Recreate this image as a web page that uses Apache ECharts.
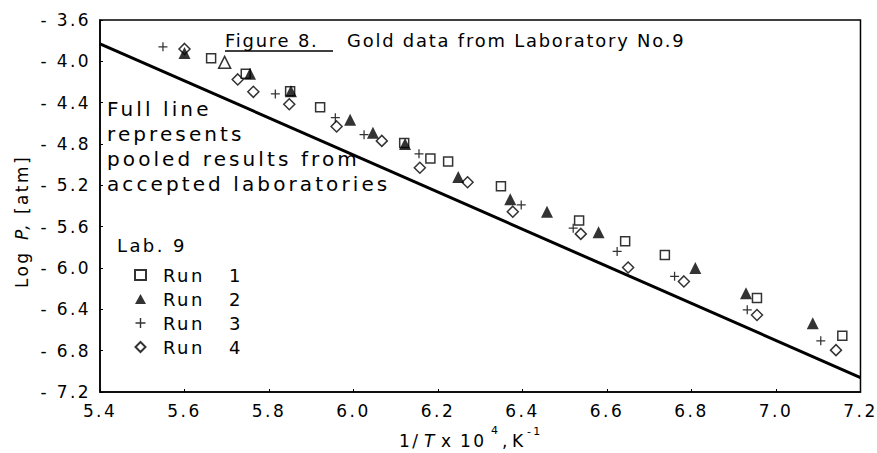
<!DOCTYPE html>
<html>
<head>
<meta charset="utf-8">
<script src="https://cdn.jsdelivr.net/npm/echarts@6/dist/echarts.min.js"></script>
<style>
html,body{margin:0;padding:0;background:#fff}
#c{width:877px;height:453px}
#c text{letter-spacing:2.4px}
#c text[style*="20px"]{letter-spacing:3.1px}
#c text[style*="17.9px"]{letter-spacing:1.8px}
</style>
</head>
<body>
<div id="c"></div>
<script>
// Run 1 (open squares): [1/T x 10^4, log P]
const run1 = [[5.663,-3.97],[5.745,-4.12],[5.85,-4.29],[5.921,-4.445],[6.12,-4.79],[6.182,-4.94],[6.224,-4.97],[6.349,-5.21],[6.534,-5.54],[6.643,-5.74],[6.737,-5.875],[6.955,-6.29],[7.157,-6.655]];
// Run 2 (filled triangles)
const run2 = [[5.6,-3.92],[5.755,-4.12],[5.852,-4.29],[5.992,-4.565],[6.046,-4.69],[6.122,-4.80],[6.248,-5.12],[6.371,-5.335],[6.458,-5.455],[6.58,-5.655],[6.809,-6.00],[6.929,-6.245],[7.087,-6.535]];
// Run 2 point drawn open in the figure
const run2Open = [[5.695,-4.01]];
// Run 3 (plus)
const run3 = [[5.549,-3.86],[5.815,-4.315],[5.957,-4.545],[6.025,-4.71],[6.155,-4.895],[6.397,-5.39],[6.52,-5.615],[6.624,-5.84],[6.76,-6.08],[6.932,-6.405],[7.106,-6.705]];
// Run 4 (open diamonds)
const run4 = [[5.6,-3.88],[5.726,-4.175],[5.763,-4.295],[5.848,-4.415],[5.96,-4.63],[6.067,-4.77],[6.157,-5.03],[6.27,-5.17],[6.377,-5.455],[6.538,-5.67],[6.65,-5.995],[6.782,-6.13],[6.955,-6.455],[7.142,-6.795]];
// Pooled results from accepted laboratories (full line)
const pooled = [[5.4,-3.83],[7.2,-7.06]];
const seriesNames = ['Run   1','Run   2','Run   3','Run   4'];
const noteLines = ['Full line','represents','pooled results from','accepted laboratories'];

const FONT = 'DejaVu Sans';
const chart = echarts.init(document.getElementById('c'), null, {renderer:'svg'});
const plus = 'path://M4.3,0H5.7V4.3H10V5.7H5.7V10H4.3V5.7H0V4.3H4.3Z';
const diamond = 'path://M5,0L10,5L5,10L0,5Z';

const graphics = [];
function txt(x,y,t,size,extra){
  return {type:'text',x:x,y:y,style:Object.assign({text:t,fontSize:size,fontFamily:FONT,fill:'#000'},extra||{})};
}
noteLines.forEach((t,i)=>{ graphics.push(txt(107,99+i*25,t,20)); });
graphics.push(txt(225,31,'Figure 8.',17.9));
graphics.push({type:'line',shape:{x1:225,y1:51,x2:333,y2:51},style:{stroke:'#000',lineWidth:1.3}});
graphics.push(txt(347,31,'Gold data from Laboratory No.9',17.9));
graphics.push(txt(117,236,'Lab. 9',18));
// x-axis title: 1/T x 10^4, K^-1
const mid = {verticalAlign:'middle'};
graphics.push(txt(399,441,'1/',17,mid));
graphics.push(txt(424,441,'T',17,{verticalAlign:'middle',fontStyle:'italic'}));
graphics.push(txt(441,441,'x',17,mid));
graphics.push(txt(460,441,'10',17,mid));
graphics.push(txt(491,430,'4',11,mid));
graphics.push(txt(502,441,',',17,mid));
graphics.push(txt(512,441,'K',17,mid));
graphics.push(txt(527,431,'-1',11,mid));
// y-axis title: Log P, [atm] (rotated)
[['Log',288,{}],['P,',240,{fontStyle:'italic'}],['[atm]',214,{}]].forEach(([t,y,ex])=>{
  const o = txt(22,y,t,17,Object.assign({verticalAlign:'middle',align:'left'},ex));
  o.rotation = Math.PI/2;
  graphics.push(o);
});

chart.setOption({
  animation:false,
  backgroundColor:'#fff',
  textStyle:{fontFamily:FONT},
  grid:{left:100,top:20,right:14,bottom:61,show:true,borderColor:'#000',borderWidth:1.5,backgroundColor:'transparent'},
  legend:{
    orient:'vertical',left:134,top:266,padding:0,itemGap:6,itemWidth:11,itemHeight:10,
    data:seriesNames,
    textStyle:{fontSize:18,lineHeight:18,color:'#000',fontFamily:FONT,padding:[0,0,0,12]}
  },
  xAxis:{
    type:'value',min:5.4,max:7.2,interval:0.2,
    axisLine:{lineStyle:{color:'#000',width:1.5}},
    axisTick:{inside:true,length:3,lineStyle:{color:'#000'}},
    axisLabel:{color:'#000',fontSize:17,margin:10,formatter:v=>v.toFixed(1)},
    splitLine:{show:false}
  },
  yAxis:{
    type:'value',min:-7.2,max:-3.6,interval:0.4,
    axisLine:{lineStyle:{color:'#000',width:1.5}},
    axisTick:{inside:true,length:3,lineStyle:{color:'#000'}},
    axisLabel:{color:'#000',fontSize:17,margin:9,formatter:v=>'- '+Math.abs(v).toFixed(1)},
    splitLine:{show:false}
  },
  graphic:graphics,
  series:[
    {name:'pooled',type:'line',data:pooled,symbol:'none',lineStyle:{color:'#000',width:3},z:1,silent:true},
    {name:seriesNames[0],type:'scatter',data:run1,symbol:'rect',symbolSize:9,itemStyle:{color:'#fff',borderColor:'#000',borderWidth:1.5},z:3},
    {name:seriesNames[1],type:'scatter',data:run2,symbol:'triangle',symbolSize:12,itemStyle:{color:'#000'},z:4},
    {name:'open',type:'scatter',data:run2Open,symbol:'triangle',symbolSize:12,itemStyle:{color:'#fff',borderColor:'#000',borderWidth:1.5},z:4},
    {name:seriesNames[2],type:'scatter',data:run3,symbol:plus,symbolSize:9,itemStyle:{color:'#000'},z:3},
    {name:seriesNames[3],type:'scatter',data:run4,symbol:diamond,symbolSize:11,itemStyle:{color:'#fff',borderColor:'#000',borderWidth:1.5},z:2}
  ]
});
</script>
</body>
</html>
